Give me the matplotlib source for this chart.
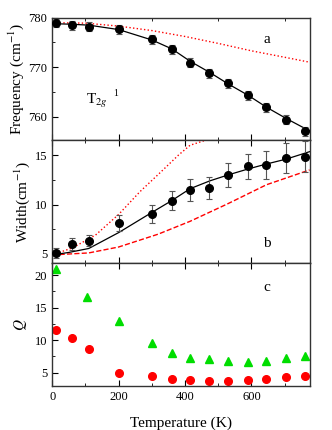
import matplotlib
matplotlib.use('Agg')
import matplotlib.pyplot as plt
from matplotlib.ticker import MultipleLocator

plt.rcParams['font.family'] = ['Liberation Serif', 'DejaVu Serif']
plt.rcParams['mathtext.fontset'] = 'stix'

# measured points
temp = [10, 60, 110, 200, 300, 360, 415, 472, 530, 588, 645, 703, 762]
freq = [778.9, 778.5, 778.2, 777.7, 775.6, 773.6, 770.9, 768.8, 766.7, 764.3, 761.9, 759.4, 757.0]
freq_err = [0.8, 0.9, 0.9, 0.9, 0.9, 0.9, 0.9, 0.9, 0.9, 0.9, 0.9, 0.9, 0.9]
width = [5.07, 5.98, 6.35, 8.1, 9.06, 10.4, 11.5, 11.7, 13.0, 13.85, 14.0, 14.7, 14.85]
width_err = [0.5, 0.6, 0.6, 0.8, 0.9, 1.0, 1.1, 1.1, 1.2, 1.3, 1.4, 1.5, 1.55]

# model curves
fit_t = [0, 50, 110, 200, 300, 360, 415, 475, 530, 590, 645, 705, 775]
freq_fit = [778.8, 778.7, 778.5, 777.6, 775.5, 773.7, 771.2, 768.9, 766.6, 764.3, 761.9, 759.6, 757.1]
width_fit = [4.9, 5.15, 5.55, 7.16, 9.2, 10.4, 11.6, 12.4, 13.0, 13.6, 14.1, 14.6, 15.35]

anh_t = [0, 100, 200, 300, 400, 500, 600, 700, 775]
freq_anh = [779.0, 778.9, 778.3, 777.4, 776.2, 774.8, 773.3, 772.0, 771.0]

dot_t = [0, 60, 130, 200, 264, 324, 380, 415, 470, 520, 775]
width_dot = [4.9, 5.6, 6.9, 9.0, 11.3, 13.2, 15.0, 16.0, 16.6, 17.0, 18.5]

dash_t = [0, 110, 200, 319, 415, 530, 645, 775]
width_dash = [4.9, 5.1, 5.7, 7.0, 8.3, 10.1, 12.0, 13.5]

# Q factors
q_red_t = temp
q_red = [11.6, 10.3, 8.6, 4.95, 4.5, 4.05, 3.85, 3.7, 3.8, 3.9, 4.0, 4.35, 4.55]
q_green_t = [10, 105, 200, 300, 360, 415, 472, 530, 588, 645, 703, 762]
q_green = [20.9, 16.6, 12.9, 9.6, 7.95, 7.2, 7.03, 6.8, 6.65, 6.85, 7.3, 7.55]

fig = plt.figure(figsize=(3.32, 4.30), dpi=100)
L, W = 0.1575, 0.775
ax1 = fig.add_axes([L, 0.6737, W, 0.2851])
ax2 = fig.add_axes([L, 0.3877, W, 0.2860], sharex=ax1)
ax3 = fig.add_axes([L, 0.103, W, 0.2847], sharex=ax1)

# panel a
ax1.plot(anh_t, freq_anh, color='red', linestyle=':', linewidth=1)
ax1.plot(fit_t, freq_fit, color='black', linewidth=0.9)
ax1.errorbar(temp, freq, yerr=freq_err, fmt='o', color='black', markersize=5.5,
             ecolor='#555555', elinewidth=0.8, capsize=2.2, capthick=0.8, zorder=3)
ax1.set_ylim(755.2, 780)
ax1.set_ylabel('Frequency (cm$^{-1}$)', fontsize=11, labelpad=2)
ax1.yaxis.set_major_locator(MultipleLocator(10))
ax1.yaxis.set_minor_locator(MultipleLocator(5))
ax1.text(0.82, 0.79, 'a', transform=ax1.transAxes, fontsize=11)
ax1.text(0.13, 0.30, r'T$_{2g}$', transform=ax1.transAxes, fontsize=11)
ax1.text(0.235, 0.36, '1', transform=ax1.transAxes, fontsize=7)

# panel b
ax2.plot(dot_t, width_dot, color='red', linestyle=':', linewidth=1)
ax2.plot(dash_t, width_dash, color='red', linestyle='--', linewidth=1)
ax2.plot(fit_t, width_fit, color='black', linewidth=0.9)
ax2.errorbar(temp, width, yerr=width_err, fmt='o', color='black', markersize=5.5,
             ecolor='#555555', elinewidth=0.8, capsize=2.2, capthick=0.8, zorder=3)
ax2.set_ylim(4.05, 16.5)
ax2.set_ylabel('Width(cm$^{-1}$)', fontsize=11, labelpad=2)
ax2.yaxis.set_major_locator(MultipleLocator(5))
ax2.yaxis.set_minor_locator(MultipleLocator(2.5))
ax2.text(0.82, 0.13, 'b', transform=ax2.transAxes, fontsize=11)

# panel c
ax3.plot(q_green_t, q_green, linestyle='none', marker='^', color='#00dd00', markersize=5.5, clip_on=False)
ax3.plot(q_red_t, q_red, linestyle='none', marker='o', color='red', markersize=5.5)
ax3.set_ylim(3, 21.8)
ax3.set_ylabel('$Q$', fontsize=11, labelpad=4)
ax3.yaxis.set_major_locator(MultipleLocator(5))
ax3.yaxis.set_minor_locator(MultipleLocator(2.5))
ax3.text(0.82, 0.77, 'c', transform=ax3.transAxes, fontsize=11)
ax3.set_xlabel('Temperature (K)', fontsize=11, labelpad=10)

ax3.set_xlim(0, 775)
ax3.xaxis.set_major_locator(MultipleLocator(200))
ax3.xaxis.set_minor_locator(MultipleLocator(100))

for ax in (ax1, ax2, ax3):
    ax.tick_params(axis='both', which='both', direction='in', labelsize=9)
    ax.tick_params(axis='x', which='both', top=True, direction='in')
    ax.tick_params(which='major', length=4)
    ax.tick_params(which='minor', length=2.5)
    for s in ax.spines.values():
        s.set_linewidth(1.0)
        s.set_color('#333333')
for ax in (ax1, ax2):
    ax.tick_params(axis='x', labelbottom=False)
ax1.tick_params(axis='x', top=False)

fig.savefig('out.png', dpi=100)
